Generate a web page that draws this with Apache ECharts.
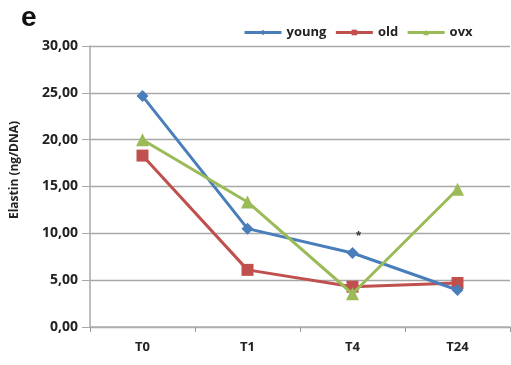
<!DOCTYPE html>
<html>
<head>
<meta charset="utf-8">
<script src="https://cdn.jsdelivr.net/npm/echarts@6/dist/echarts.min.js"></script>
<style>
  html, body { margin: 0; padding: 0; background: #fff; }
  #chart { width: 511px; height: 365px; }
</style>
</head>
<body>
<div id="chart"></div>
<script>
// Elastin content per time point for each group
var categories = ['T0', 'T1', 'T4', 'T24'];
var young = [24.65, 10.5, 7.9, 3.95];
var old = [18.3, 6.1, 4.3, 4.7];
var ovx = [20.0, 13.35, 3.55, 14.7];
var yTicks = [0, 5, 10, 15, 20, 25, 30];

var FONT = '"Open Sans", Lato, sans-serif';

var chart = echarts.init(document.getElementById('chart'), null, { renderer: 'canvas' });

function fmt(v) { return v.toFixed(2).replace('.', ','); }

chart.setOption({
  animation: false,
  backgroundColor: '#ffffff',
  graphic: [
    {
      type: 'text', left: 21, top: 4,
      style: { text: 'e', font: 'bold 28px Arial, sans-serif', fill: '#111' }
    },
    {
      type: 'text', x: 15, y: 170, rotation: Math.PI / 2,
      style: {
        text: 'Elastin (ng/DNA)', font: 'bold 12px "Open Sans", sans-serif', fill: '#222',
        align: 'center', verticalAlign: 'middle'
      }
    }
  ],
  legend: {
    top: 21, left: 238,
    itemGap: 8, itemWidth: 37, itemHeight: 7,
    lineStyle: { width: 3 },
    textStyle: { fontFamily: FONT, fontWeight: 'bold', fontSize: 13, color: '#222' },
    data: ['young', 'old', 'ovx']
  },
  grid: { left: 90, right: 1, top: 46, bottom: 38 },
  xAxis: {
    type: 'category',
    data: categories,
    boundaryGap: true,
    axisLine: { lineStyle: { color: '#b0b0b0', width: 1.5 } },
    axisTick: { show: true, length: 5, lineStyle: { color: '#999' } },
    axisLabel: { fontFamily: FONT, fontWeight: 'bold', fontSize: 13, color: '#222', margin: 14 }
  },
  yAxis: {
    type: 'value',
    min: yTicks[0], max: yTicks[yTicks.length - 1], interval: 5,
    axisLine: { show: true, lineStyle: { color: '#a8a8a8', width: 1.5 } },
    axisTick: { show: true, inside: false, length: 8, lineStyle: { color: '#a8a8a8' } },
    axisLabel: { formatter: fmt, fontFamily: FONT, fontWeight: 'bold', fontSize: 14, color: '#222', margin: 12 },
    splitLine: { lineStyle: { color: '#a8a8a8', width: 1.3 } }
  },
  series: [
    {
      name: 'young', type: 'line', data: young.map(function (v, i) {
        if (categories[i] === 'T4') {
          return { value: v, label: { show: true, formatter: '*', position: 'top', offset: [6, 1], fontSize: 13, fontWeight: 'bold', color: '#333' } };
        }
        return v;
      }),
      symbol: 'diamond', symbolSize: 12,
      itemStyle: { color: '#4a7ebb' },
      lineStyle: { color: '#4a7ebb', width: 3 },
      z: 3
    },
    {
      name: 'old', type: 'line', data: old,
      symbol: 'rect', symbolSize: 12,
      itemStyle: { color: '#c0504d' },
      lineStyle: { color: '#c0504d', width: 3 },
      z: 2
    },
    {
      name: 'ovx', type: 'line', data: ovx,
      symbol: 'triangle', symbolSize: 13,
      itemStyle: { color: '#9bbb59' },
      lineStyle: { color: '#9bbb59', width: 3 },
      z: 4
    }
  ]
});
</script>
</body>
</html>
